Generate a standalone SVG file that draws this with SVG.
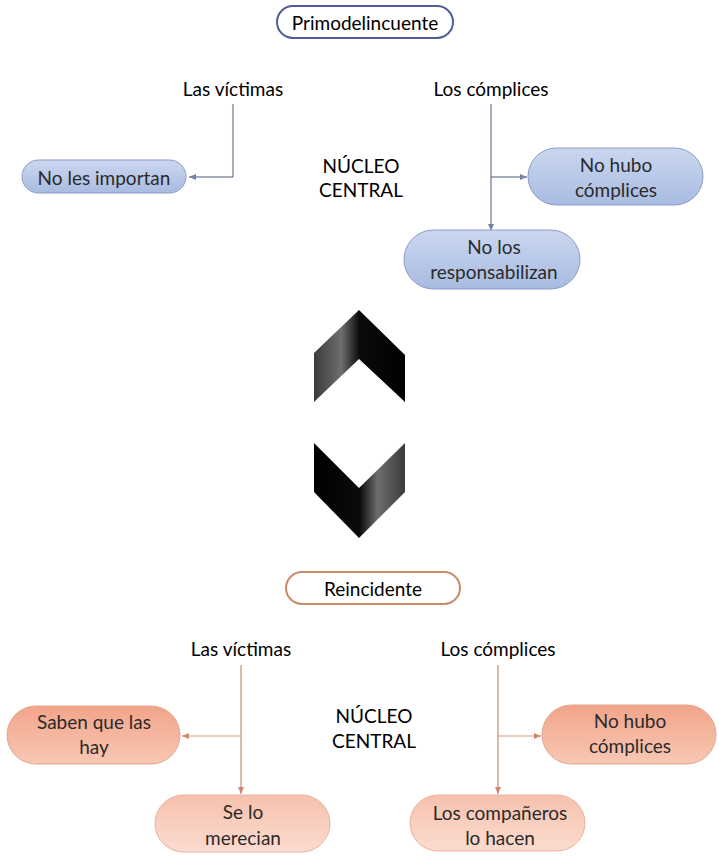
<svg xmlns="http://www.w3.org/2000/svg" width="719" height="858" viewBox="0 0 719 858">
<style>
text{font-family:Lato,"Liberation Sans",sans-serif;font-size:19px;fill:#000;text-anchor:middle;dominant-baseline:central}
.n text{fill:#2a2a2a}
.blue{fill:url(#gBlue);stroke:#8c9cc6;stroke-width:1}
.sal{fill:url(#gSal);stroke:#e4a58e;stroke-width:1}
.sal2{fill:url(#gSal2);stroke:#e8b3a0;stroke-width:1}
.cb{stroke:#4c5b7a;stroke-width:1;fill:none}
.cs{stroke:#b9735c;stroke-width:1;fill:none}
.cs2{stroke:#dc9a84;stroke-width:1.2;fill:none}
</style>
<defs>
<linearGradient id="gBlue" x1="0" y1="0" x2="0" y2="1"><stop offset="0" stop-color="#cbd7f0"/><stop offset="1" stop-color="#a8bbe0"/></linearGradient>
<linearGradient id="gSal" x1="0" y1="0" x2="0" y2="1"><stop offset="0" stop-color="#f2a48a"/><stop offset="1" stop-color="#f8c8b4"/></linearGradient>
<linearGradient id="gSal2" x1="0" y1="0" x2="0" y2="1"><stop offset="0" stop-color="#f6c1ad"/><stop offset="1" stop-color="#fbdcd0"/></linearGradient>
<linearGradient id="gUp" x1="0" y1="0" x2="1" y2="0"><stop offset="0" stop-color="#3a3a3a"/><stop offset="0.3" stop-color="#6e6e6e"/><stop offset="0.5" stop-color="#0a0a0a"/><stop offset="1" stop-color="#000"/></linearGradient>
<linearGradient id="gDn" x1="0" y1="0" x2="1" y2="0"><stop offset="0" stop-color="#000"/><stop offset="0.5" stop-color="#0a0a0a"/><stop offset="0.7" stop-color="#6e6e6e"/><stop offset="1" stop-color="#3a3a3a"/></linearGradient>
<marker id="aB" markerWidth="8" markerHeight="8" refX="7" refY="4" orient="auto" markerUnits="userSpaceOnUse"><path d="M0,1 L7,4 L0,7 Z" fill="#6f85a8"/></marker>
<marker id="aS" markerWidth="8" markerHeight="8" refX="7" refY="4" orient="auto" markerUnits="userSpaceOnUse"><path d="M0,1 L7,4 L0,7 Z" fill="#d4866c"/></marker>
</defs>

<g id="connectors">
<polyline class="cb" points="233,104 233,177 189,177" marker-end="url(#aB)"/>
<line class="cb" x1="491" y1="104" x2="491" y2="231" marker-end="url(#aB)"/>
<line class="cb" x1="491" y1="177" x2="527" y2="177" marker-end="url(#aB)"/>
<line class="cs" x1="241" y1="665" x2="241" y2="794" marker-end="url(#aS)"/>
<line class="cs2" x1="241" y1="736" x2="182" y2="736" marker-end="url(#aS)"/>
<line class="cs" x1="498" y1="665" x2="498" y2="794" marker-end="url(#aS)"/>
<line class="cs2" x1="498" y1="736" x2="541" y2="736" marker-end="url(#aS)"/>
</g>

<g id="primodelincuente"><rect x="277" y="6" width="176" height="32" rx="16" fill="#fff" stroke="#4f5f96" stroke-width="2"/><text x="365" y="22">Primodelincuente</text></g>
<g id="victimas1"><text x="233" y="88">Las víctimas</text></g>
<g id="complices1"><text x="491" y="88">Los cómplices</text></g>
<g id="nucleo1"><text x="361" y="165">NÚCLEO</text><text x="361" y="189">CENTRAL</text></g>
<g id="noImportan" class="n"><rect class="blue" x="22" y="160" width="164" height="33" rx="16.5"/><text x="104" y="177">No les importan</text></g>
<g id="noHubo1" class="n"><rect class="blue" x="528" y="148" width="175" height="57" rx="28.5"/><text x="616" y="164">No hubo</text><text x="616" y="189">cómplices</text></g>
<g id="noResp" class="n"><rect class="blue" x="404" y="230" width="176" height="59" rx="29.5"/><text x="494" y="246">No los</text><text x="494" y="271">responsabilizan</text></g>

<g id="flechas">
<polygon points="359,310 405,355 405,402 359,359 314,402 314,353" fill="url(#gUp)"/>
<polygon points="314,443 359,488 405,443 405,492 359,538 314,492" fill="url(#gDn)"/>
</g>

<g id="reincidente"><rect x="286" y="572" width="174" height="32" rx="16" fill="#fff" stroke="#c98a6c" stroke-width="2"/><text x="373" y="588">Reincidente</text></g>
<g id="victimas2"><text x="241" y="648">Las víctimas</text></g>
<g id="complices2"><text x="498" y="648">Los cómplices</text></g>
<g id="nucleo2"><text x="374" y="715">NÚCLEO</text><text x="374" y="740">CENTRAL</text></g>
<g id="saben" class="n"><rect class="sal" x="7" y="706" width="173" height="58" rx="29"/><text x="94" y="721">Saben que las</text><text x="94" y="746">hay</text></g>
<g id="merecian" class="n"><rect class="sal2" x="155" y="795" width="175" height="57" rx="28.5"/><text x="243" y="811">Se lo</text><text x="243" y="837">merecian</text></g>
<g id="noHubo2" class="n"><rect class="sal" x="542" y="705" width="174" height="59" rx="29.5"/><text x="630" y="720">No hubo</text><text x="630" y="745">cómplices</text></g>
<g id="companeros" class="n"><rect class="sal2" x="410" y="795" width="175" height="56" rx="28"/><text x="500" y="812">Los compañeros</text><text x="500" y="837">lo hacen</text></g>
</svg>
